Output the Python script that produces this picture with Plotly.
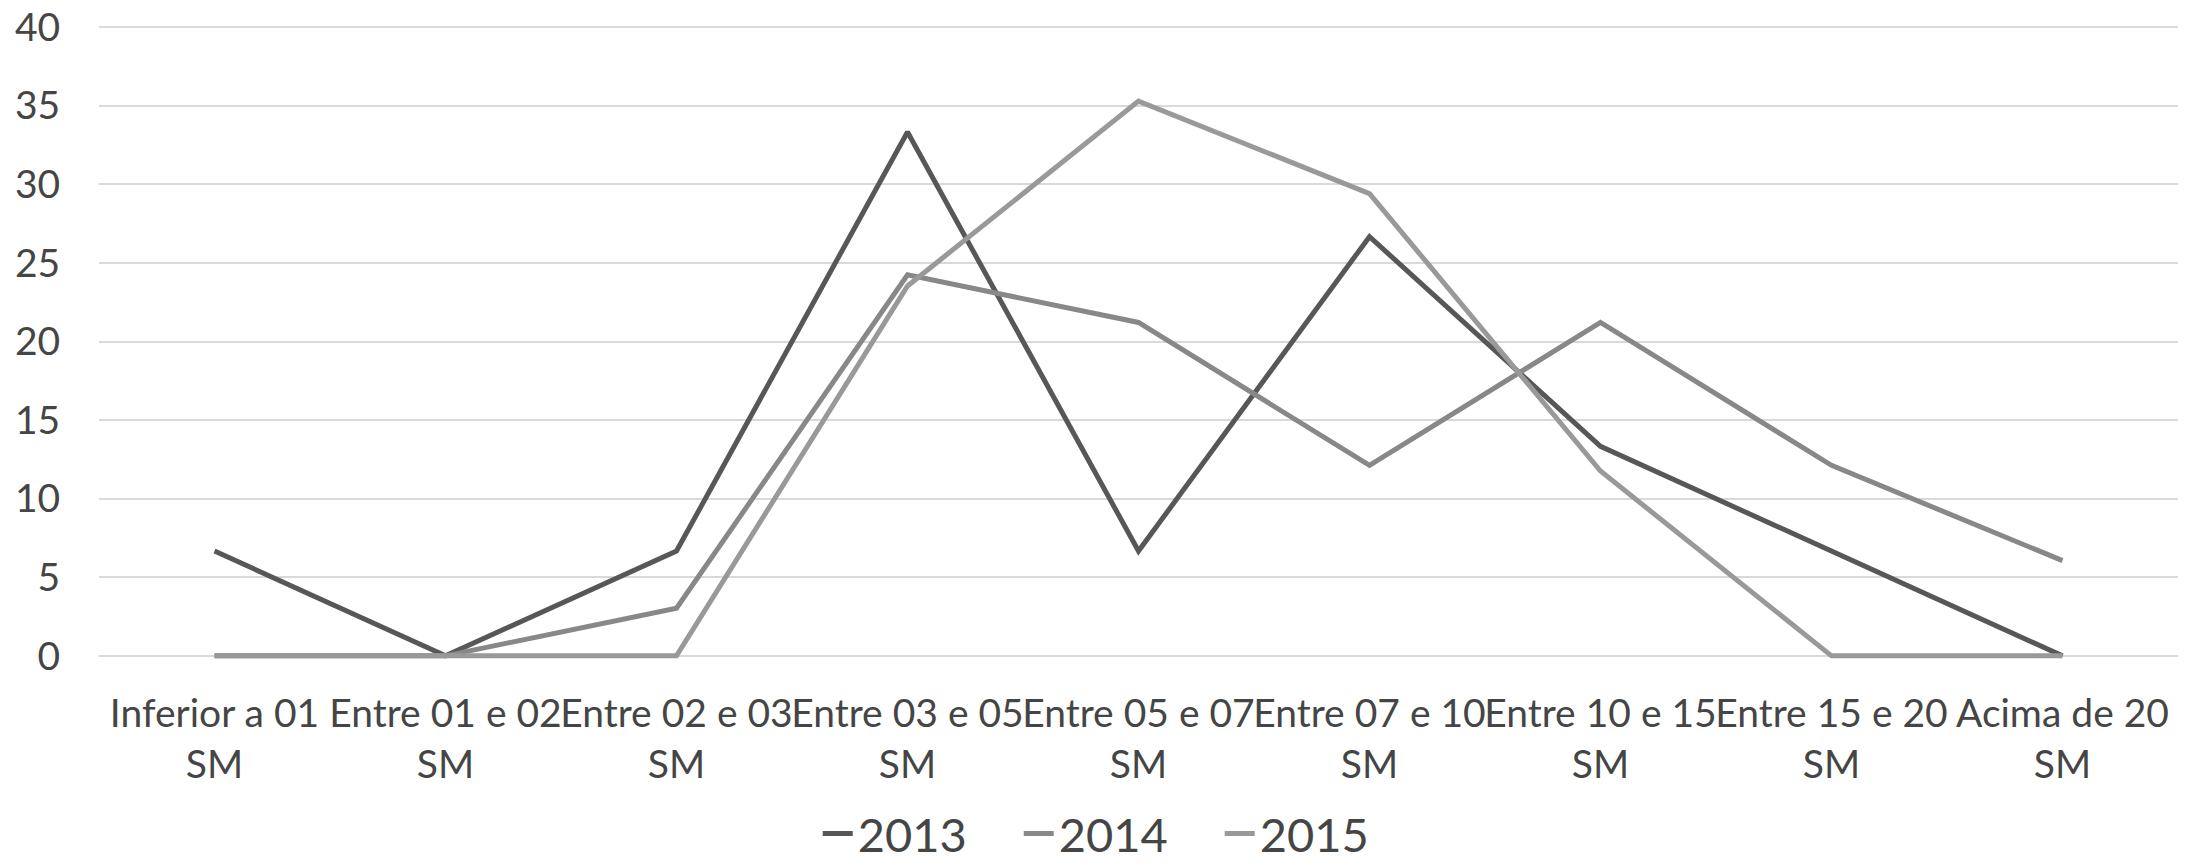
import plotly.graph_objects as go

categories = [
    "Inferior a 01<br>SM", "Entre 01 e 02<br>SM", "Entre 02 e 03<br>SM",
    "Entre 03 e 05<br>SM", "Entre 05 e 07<br>SM", "Entre 07 e 10<br>SM",
    "Entre 10 e 15<br>SM", "Entre 15 e 20<br>SM", "Acima de 20<br>SM",
]
series_names = ["2013", "2014", "2015"]
values_2013 = [6.67, 0, 6.67, 33.33, 6.67, 26.67, 13.33, 6.67, 0]
values_2014 = [0, 0, 3.03, 24.24, 21.21, 12.12, 21.21, 12.12, 6.06]
values_2015 = [0, 0, 0, 23.53, 35.29, 29.41, 11.76, 0, 0]
y_ticks = [0, 5, 10, 15, 20, 25, 30, 35, 40]

colors = ["#575757", "#888888", "#999999"]
FONT = "Lato"
TEXT = "#454545"

fig = go.Figure()
for name, vals, col in zip(series_names, [values_2013, values_2014, values_2015], colors):
    fig.add_trace(go.Scatter(
        x=categories, y=vals, name=name, mode="lines",
        line=dict(color=col, width=5),
    ))

fig.update_layout(
    width=2186, height=866,
    margin=dict(l=99, r=8, t=24, b=207, autoexpand=False),
    paper_bgcolor="white", plot_bgcolor="white",
    font=dict(family=FONT, color=TEXT, size=39),
    showlegend=True,
    legend=dict(
        orientation="h", xref="container", yref="container",
        x=0.512, xanchor="center", y=0.037, yanchor="middle",
        font=dict(size=47, color=TEXT),
        entrywidth=156, entrywidthmode="pixels",
        maxheight=300, tracegroupgap=0,
        traceorder="normal",
    ),
)
fig.update_xaxes(
    type="category", range=[-0.5, 8.5], tickangle=0, automargin=False,
    showgrid=False, showline=False, zeroline=False,
    ticks="outside", ticklen=20, tickcolor="rgba(0,0,0,0)",
    tickfont=dict(size=39, family=FONT, color=TEXT),
)
fig.update_yaxes(
    range=[-0.2, 40.2], tickvals=y_ticks, automargin=False,
    showgrid=True, gridcolor="#d9d9d9", gridwidth=2,
    zeroline=True, zerolinecolor="#d9d9d9", zerolinewidth=2,
    showline=False,
    ticks="outside", ticklen=30, tickcolor="rgba(0,0,0,0)",
    tickfont=dict(size=39, family=FONT, color=TEXT),
)

fig.write_html("out.html")
